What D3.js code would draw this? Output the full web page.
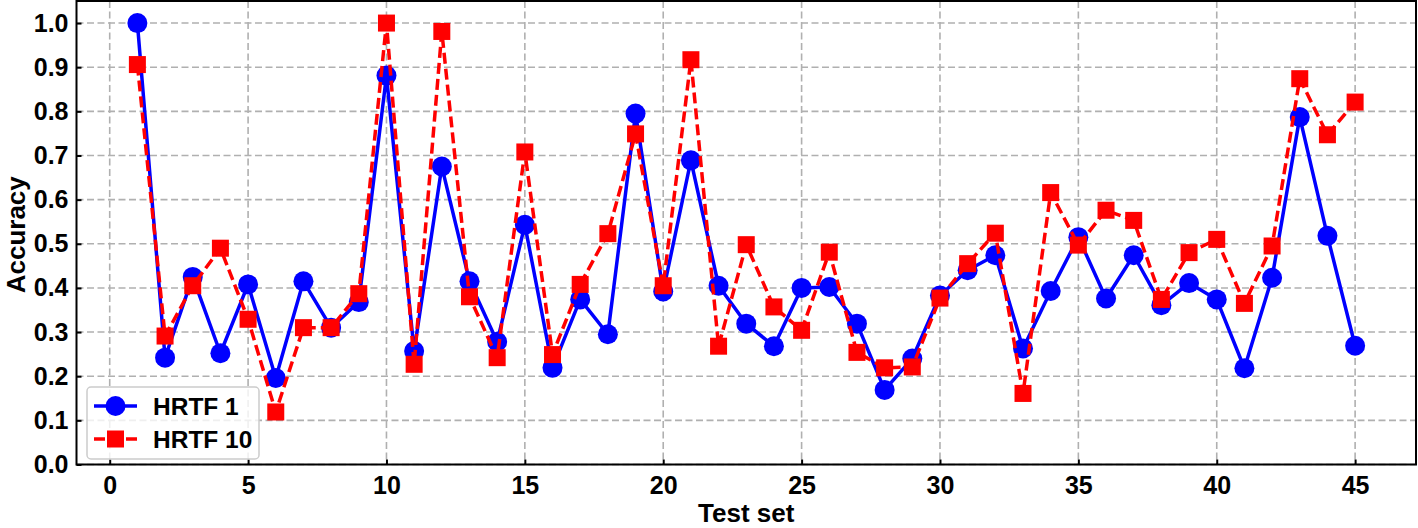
<!DOCTYPE html>
<html>
<head>
<meta charset="utf-8">
<script src="https://cdn.jsdelivr.net/npm/d3@7"></script>
<style>
  html, body { margin: 0; padding: 0; background: #fff; }
  svg { display: block; font-family: "Liberation Sans", Arial, sans-serif; font-weight: bold; }
</style>
</head>
<body>
<svg id="chart" width="1418" height="528"></svg>
<script>
// ── Data ──────────────────────────────────────────────────────────────────────
const testSets = d3.range(1, 46);
const hrtf1 = [
  1.000, 0.242, 0.425, 0.252, 0.408, 0.196, 0.415, 0.310, 0.368, 0.881,
  0.257, 0.675, 0.415, 0.278, 0.543, 0.219, 0.374, 0.295, 0.795, 0.392,
  0.689, 0.405, 0.319, 0.268, 0.400, 0.402, 0.319, 0.169, 0.240, 0.383,
  0.440, 0.474, 0.263, 0.393, 0.515, 0.376, 0.474, 0.361, 0.411, 0.374,
  0.218, 0.423, 0.787, 0.518, 0.269
];
const hrtf10 = [
  0.906, 0.291, 0.405, 0.490, 0.329, 0.119, 0.310, 0.310, 0.387, 1.000,
  0.227, 0.981, 0.380, 0.242, 0.708, 0.249, 0.408, 0.523, 0.749, 0.405,
  0.917, 0.268, 0.498, 0.357, 0.304, 0.481, 0.254, 0.219, 0.221, 0.377,
  0.455, 0.524, 0.161, 0.616, 0.497, 0.576, 0.553, 0.374, 0.480, 0.510,
  0.365, 0.495, 0.874, 0.747, 0.821
];
const xTicks = [0, 5, 10, 15, 20, 25, 30, 35, 40, 45];
const yTicks = [0, 0.1, 0.2, 0.3, 0.4, 0.5, 0.6, 0.7, 0.8, 0.9, 1.0];

const SERIES = [
  { name: 'HRTF 1',  values: hrtf1,  color: '#0000ff', dash: null,   marker: 'circle' },
  { name: 'HRTF 10', values: hrtf10, color: '#ff0000', dash: '11,5', marker: 'square' },
];

// ── Layout ────────────────────────────────────────────────────────────────────
const m = { left: 76.5, right: 1416, top: 1, bottom: 464.5 };
const TICK_FONT = 25, LABEL_FONT = 26, LEGEND_FONT = 24.5;

const svg = d3.select('#chart');

const x = d3.scaleLinear().domain([-1.2, 47.2]).range([m.left, m.right]);
const y = d3.scaleLinear().domain([0, 1.05]).range([m.bottom, m.top]);

// Grid
const grid = svg.append('g').attr('stroke', '#b0b0b0').attr('stroke-width', 1.6)
  .attr('stroke-dasharray', '7,3.5');
grid.selectAll('line.gx').data(xTicks).join('line')
  .attr('x1', d => x(d)).attr('x2', d => x(d))
  .attr('y1', m.top).attr('y2', m.bottom);
grid.selectAll('line.gy').data(yTicks).join('line')
  .attr('x1', m.left).attr('x2', m.right)
  .attr('y1', d => y(d)).attr('y2', d => y(d));

// ── Series ────────────────────────────────────────────────────────────────────
const line = d3.line().x((_, i) => x(testSets[i])).y(d => y(d));
const plot = svg.append('g');

SERIES.forEach(s => {
  plot.append('path')
    .datum(s.values)
    .attr('d', line)
    .attr('fill', 'none')
    .attr('stroke', s.color)
    .attr('stroke-width', 3.5)
    .attr('stroke-linejoin', 'round')
    .attr('stroke-dasharray', s.dash);

  if (s.marker === 'circle') {
    plot.selectAll(null).data(s.values).join('circle')
      .attr('cx', (_, i) => x(testSets[i]))
      .attr('cy', d => y(d))
      .attr('r', 10)
      .attr('fill', s.color);
  } else {
    plot.selectAll(null).data(s.values).join('rect')
      .attr('x', (_, i) => x(testSets[i]) - 8.5)
      .attr('y', d => y(d) - 8.5)
      .attr('width', 17).attr('height', 17)
      .attr('fill', s.color);
  }
});

// ── Axes ──────────────────────────────────────────────────────────────────────
const xAxis = d3.axisBottom(x).tickValues(xTicks).tickFormat(d3.format('d'))
  .tickSizeInner(-5).tickSizeOuter(0).tickPadding(12);
const yAxis = d3.axisLeft(y).tickValues(yTicks).tickFormat(d3.format('.1f'))
  .tickSizeInner(-5).tickSizeOuter(0).tickPadding(8);

svg.append('g').attr('transform', `translate(0,${m.bottom})`).call(xAxis)
  .call(g => g.select('.domain').remove());
svg.append('g').attr('transform', `translate(${m.left},0)`).call(yAxis)
  .call(g => g.select('.domain').remove());

svg.selectAll('.tick line').attr('stroke', '#000').attr('stroke-width', 2);
svg.selectAll('.tick text')
  .attr('font-size', TICK_FONT).attr('font-weight', 'bold')
  .attr('font-family', '"Liberation Sans", Arial, sans-serif')
  .attr('fill', '#000');

// Frame
svg.append('rect')
  .attr('x', m.left).attr('y', m.top)
  .attr('width', m.right - m.left).attr('height', m.bottom - m.top)
  .attr('fill', 'none').attr('stroke', '#000').attr('stroke-width', 2);

// Axis titles (the reference crops them at the edges; kept just inside here)
svg.append('text')
  .attr('x', (m.left + m.right) / 2).attr('y', 522)
  .attr('text-anchor', 'middle').attr('font-size', LABEL_FONT)
  .text('Test set');

svg.append('text')
  .attr('transform', `translate(25,${(m.top + m.bottom) / 2 + 2}) rotate(-90)`)
  .attr('text-anchor', 'middle').attr('font-size', LABEL_FONT)
  .text('Accuracy');

// ── Legend ────────────────────────────────────────────────────────────────────
const lg = svg.append('g').attr('transform', 'translate(87,387)');
lg.append('rect')
  .attr('width', 172).attr('height', 72).attr('rx', 4)
  .attr('fill', '#fff').attr('fill-opacity', 0.8)
  .attr('stroke', '#cccccc').attr('stroke-width', 1.5);

SERIES.forEach((s, i) => {
  const row = lg.append('g').attr('transform', `translate(0,${19 + i * 33})`);
  row.append('line')
    .attr('x1', 7).attr('x2', 50)
    .attr('stroke', s.color).attr('stroke-width', 3.5)
    .attr('stroke-dasharray', s.dash);
  if (s.marker === 'circle') {
    row.append('circle').attr('cx', 28.5).attr('r', 10).attr('fill', s.color);
  } else {
    row.append('rect').attr('x', 20).attr('y', -8.5)
      .attr('width', 17).attr('height', 17).attr('fill', s.color);
  }
  row.append('text')
    .attr('x', 66).attr('dy', '0.35em')
    .attr('font-size', LEGEND_FONT)
    .text(s.name);
});
</script>
</body>
</html>
